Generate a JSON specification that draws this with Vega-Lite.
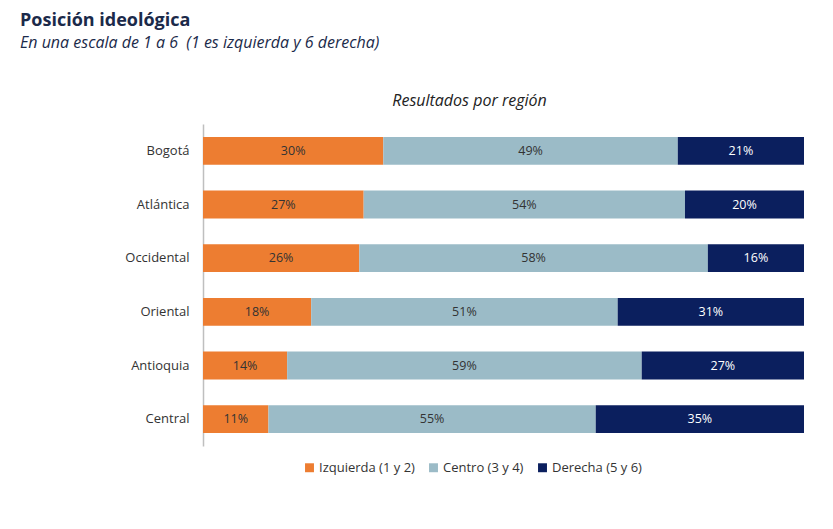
{
  "$schema": "https://vega.github.io/schema/vega-lite/v6.json",
  "width": 601,
  "height": 322,
  "autosize": {"type": "none"},
  "padding": {"left": 203, "top": 124, "right": 29, "bottom": 83},
  "background": "white",
  "title": {
    "text": "Posición ideológica",
    "subtitle": "En una escala de 1 a 6 \u00a0(1 es izquierda y 6 derecha)",
    "anchor": "start",
    "frame": "group",
    "dx": -183,
    "offset": 41,
    "font": "Open Sans",
    "fontSize": 18,
    "fontWeight": "bold",
    "color": "#1b2a4a",
    "subtitleFont": "Open Sans",
    "subtitleFontSize": 16,
    "subtitleFontStyle": "italic",
    "subtitleColor": "#1b2a4a",
    "subtitlePadding": 5
  },
  "data": {
    "values": [
      {"region": "Bogotá", "cat": "Izquierda (1 y 2)", "o": 1, "v": 30},
      {"region": "Bogotá", "cat": "Centro (3 y 4)", "o": 2, "v": 49},
      {"region": "Bogotá", "cat": "Derecha (5 y 6)", "o": 3, "v": 21},
      {"region": "Atlántica", "cat": "Izquierda (1 y 2)", "o": 1, "v": 27},
      {"region": "Atlántica", "cat": "Centro (3 y 4)", "o": 2, "v": 54},
      {"region": "Atlántica", "cat": "Derecha (5 y 6)", "o": 3, "v": 20},
      {"region": "Occidental", "cat": "Izquierda (1 y 2)", "o": 1, "v": 26},
      {"region": "Occidental", "cat": "Centro (3 y 4)", "o": 2, "v": 58},
      {"region": "Occidental", "cat": "Derecha (5 y 6)", "o": 3, "v": 16},
      {"region": "Oriental", "cat": "Izquierda (1 y 2)", "o": 1, "v": 18},
      {"region": "Oriental", "cat": "Centro (3 y 4)", "o": 2, "v": 51},
      {"region": "Oriental", "cat": "Derecha (5 y 6)", "o": 3, "v": 31},
      {"region": "Antioquia", "cat": "Izquierda (1 y 2)", "o": 1, "v": 14},
      {"region": "Antioquia", "cat": "Centro (3 y 4)", "o": 2, "v": 59},
      {"region": "Antioquia", "cat": "Derecha (5 y 6)", "o": 3, "v": 27},
      {"region": "Central", "cat": "Izquierda (1 y 2)", "o": 1, "v": 11},
      {"region": "Central", "cat": "Centro (3 y 4)", "o": 2, "v": 55},
      {"region": "Central", "cat": "Derecha (5 y 6)", "o": 3, "v": 35}
    ]
  },
  "transform": [
    {"stack": "v", "groupby": ["region"], "sort": [{"field": "o", "order": "ascending"}], "offset": "normalize", "as": ["x0", "x1"]},
    {"calculate": "(datum.x0 + datum.x1) / 2", "as": "xm"},
    {"calculate": "datum.v + '%'", "as": "lbl"}
  ],
  "encoding": {
    "y": {
      "field": "region",
      "type": "nominal",
      "sort": ["Bogotá", "Atlántica", "Occidental", "Oriental", "Antioquia", "Central"],
      "scale": {"paddingInner": 0.48, "paddingOuter": 0.24},
      "axis": {
        "title": null,
        "ticks": false,
        "labelPadding": 14,
        "labelFont": "Open Sans",
        "labelFontSize": 13,
        "labelColor": "#333333",
        "domainColor": "#bfbfbf",
        "domainWidth": 1.5
      }
    }
  },
  "layer": [
    {
      "mark": {"type": "bar"},
      "encoding": {
        "x": {
          "field": "x0",
          "type": "quantitative",
          "scale": {"domain": [0, 1], "nice": false},
          "axis": {
            "orient": "top",
            "title": "Resultados por región",
            "titleFont": "Open Sans",
            "titleFontSize": 16,
            "titleFontStyle": "italic",
            "titleFontWeight": "normal",
            "titleColor": "#222222",
            "titleX": 266,
            "titleY": -16,
            "titleAlign": "center",
            "labels": false,
            "ticks": false,
            "domain": false,
            "grid": false
          }
        },
        "x2": {"field": "x1"},
        "color": {
          "field": "cat",
          "type": "nominal",
          "sort": ["Izquierda (1 y 2)", "Centro (3 y 4)", "Derecha (5 y 6)"],
          "scale": {
            "domain": ["Izquierda (1 y 2)", "Centro (3 y 4)", "Derecha (5 y 6)"],
            "range": ["#ED7D31", "#9BBBC7", "#0B1F5E"]
          },
          "legend": {
            "title": null,
            "orient": "none",
            "direction": "horizontal",
            "legendX": 100,
            "legendY": 337,
            "symbolType": "square",
            "symbolSize": 80,
            "symbolOffset": 0,
            "labelFont": "Open Sans",
            "labelFontSize": 13,
            "labelColor": "#333333",
            "columnPadding": 12,
            "labelOffset": 3
          }
        }
      }
    },
    {
      "mark": {"type": "text", "font": "Open Sans", "fontSize": 12.5},
      "encoding": {
        "x": {"field": "xm", "type": "quantitative"},
        "text": {"field": "lbl"},
        "color": {
          "condition": {"test": "datum.o == 3", "value": "#ffffff"},
          "value": "#333333"
        }
      }
    }
  ],
  "config": {"view": {"stroke": null}}
}
